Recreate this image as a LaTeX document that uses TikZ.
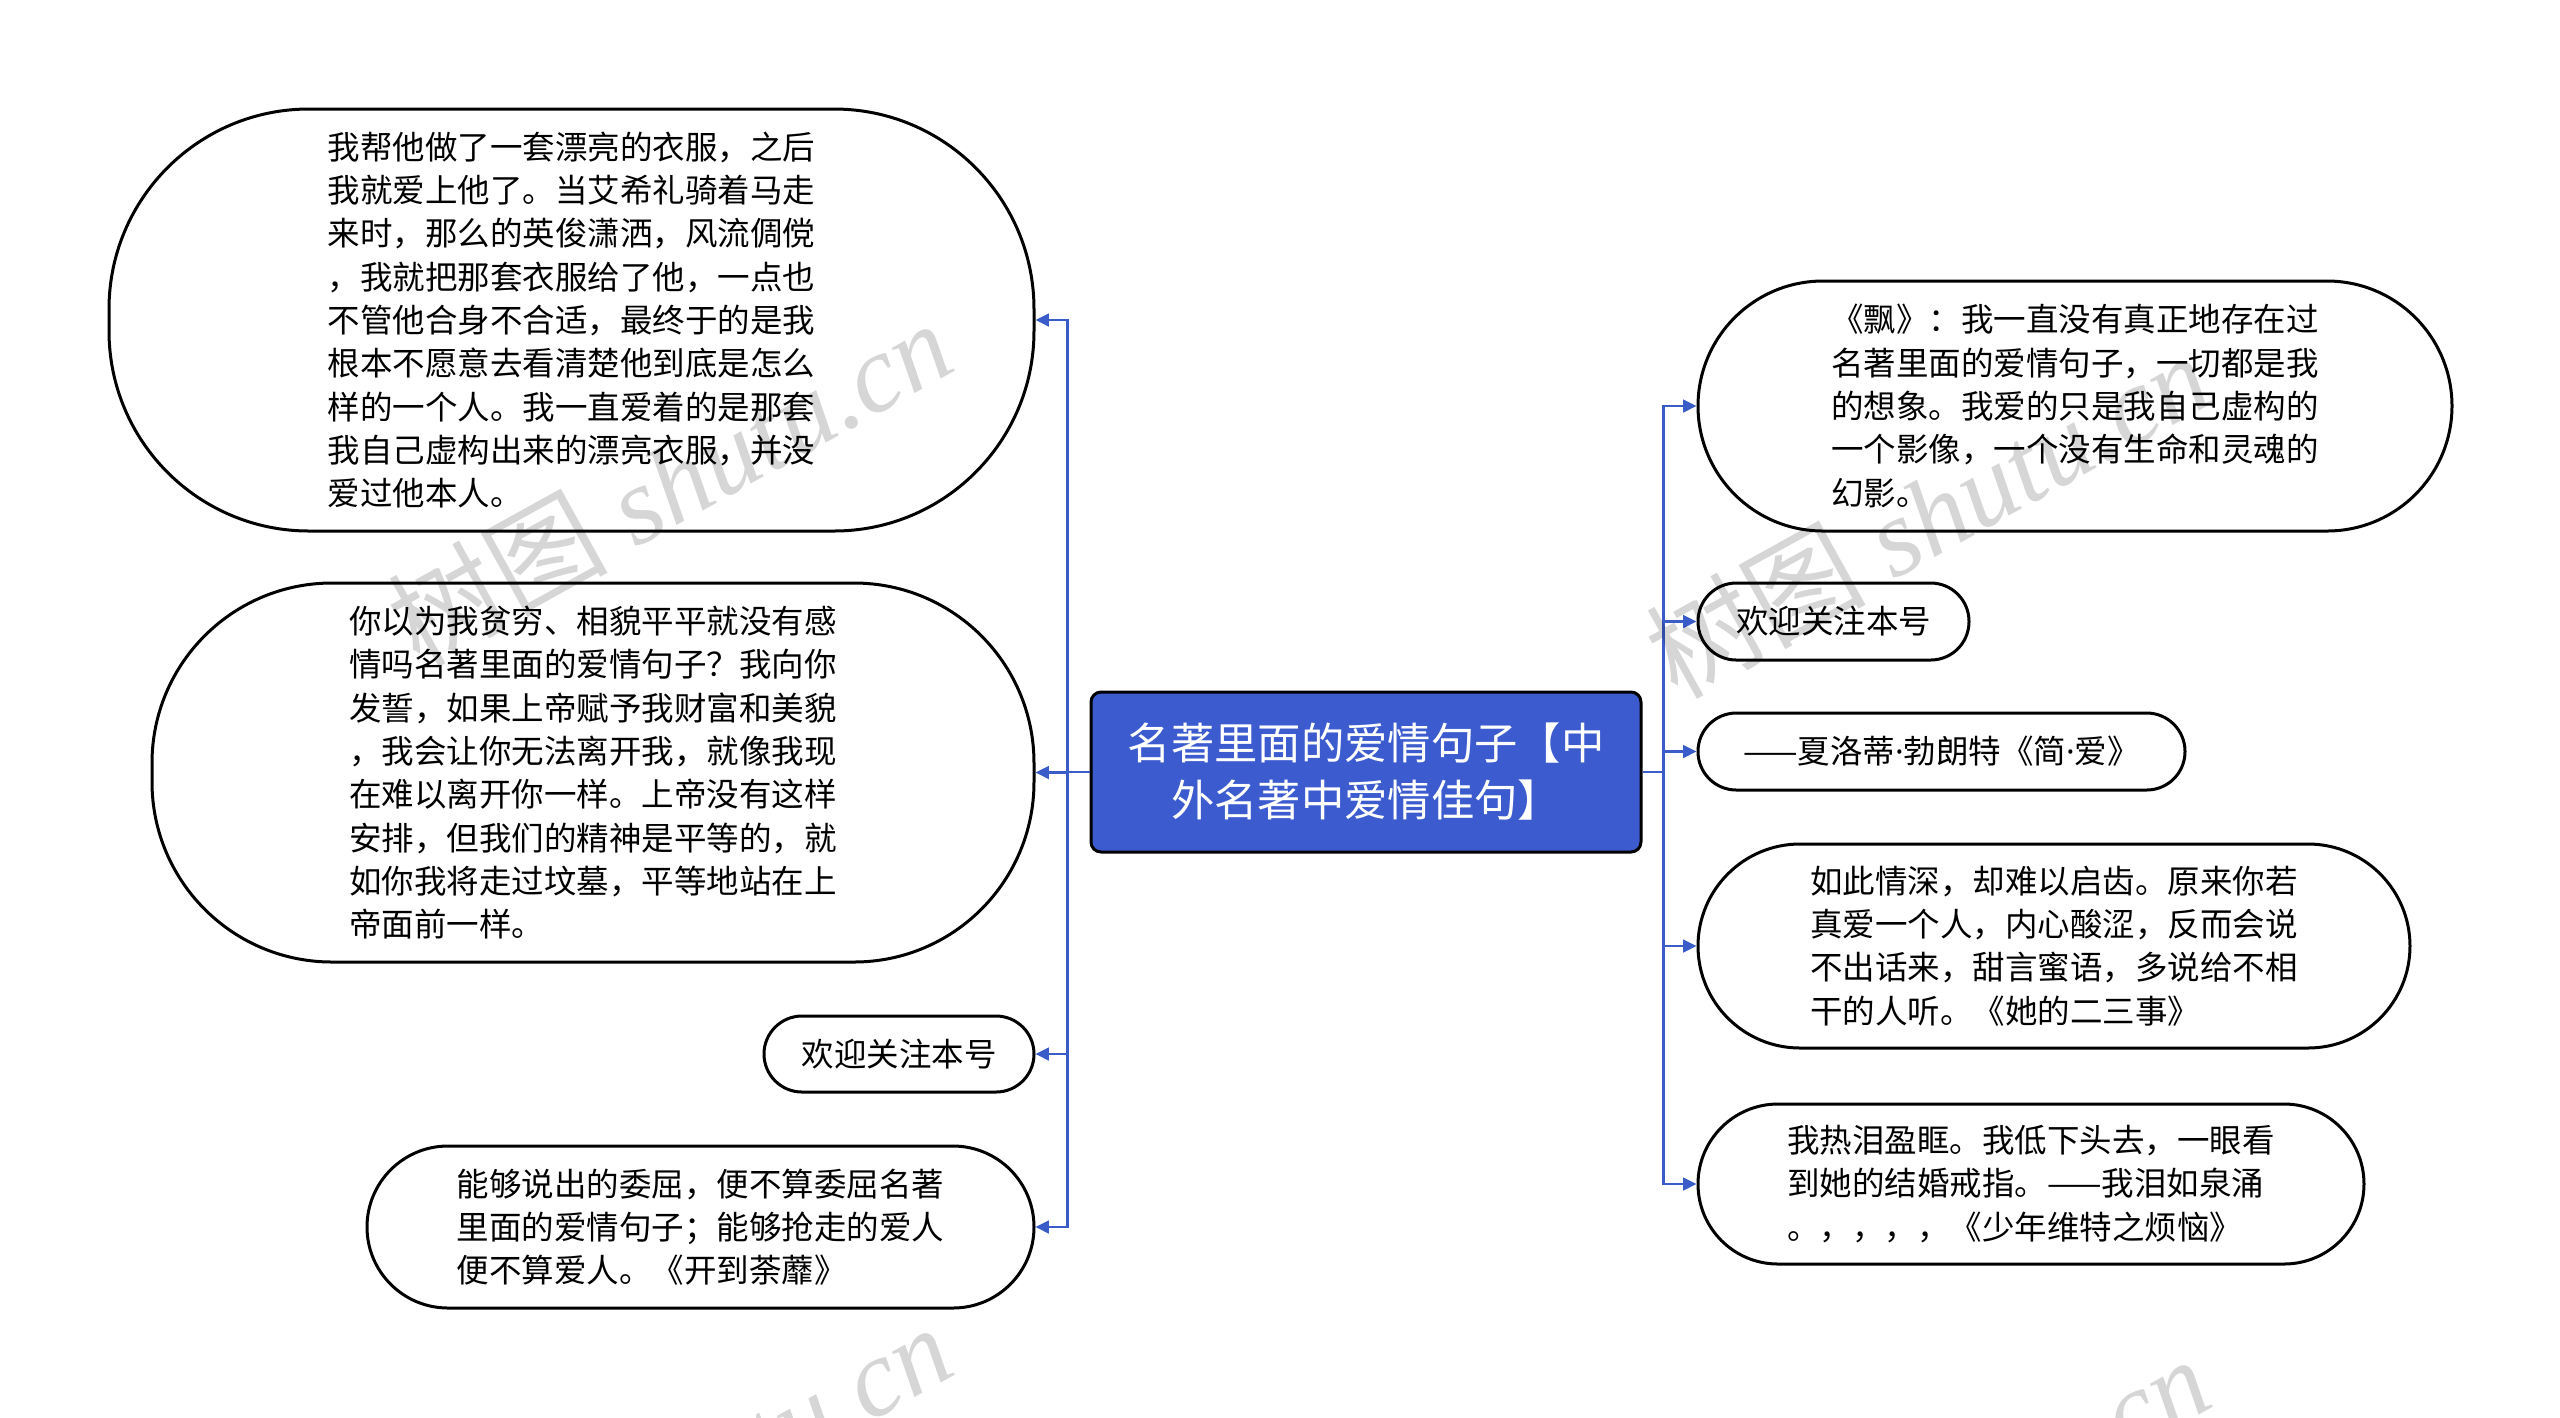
\documentclass[tikz,border=0pt]{standalone}
\usepackage{fontspec}
\setmainfont{Liberation Serif}
\newfontfamily\cjk{Noto Sans CJK SC}
\newfontfamily\latinsans{Noto Sans}
\usetikzlibrary{arrows.meta}
\definecolor{linkblue}{RGB}{58,92,200}
\definecolor{rootblue}{RGB}{59,91,207}
\newcommand{\middot}{{\latinsans ·}}
\begin{document}
\begin{tikzpicture}[x=0.3pt,y=-0.3pt,
  leaf/.style={draw=black, line width=0.9pt, fill=white, align=left, inner sep=0pt,
    font=\cjk\fontsize{9.75pt}{13pt}\selectfont},
  root/.style={draw=black, line width=0.9pt, fill=rootblue, text=white, align=center,
    inner sep=0pt, rounded corners=3pt, font=\cjk\fontsize{13pt}{17.1pt}\selectfont},
  link/.style={draw=linkblue, line width=0.7pt, -{Triangle[length=4pt,width=3.8pt]}},
  wm/.style={text=black, opacity=0.16, font=\fontsize{33pt}{36pt}\selectfont, inner sep=0pt}
]
\useasboundingbox (0,0) rectangle (2560,1417);
\fill[white] (0,0) rectangle (2560,1417);

\node[root, minimum width=165pt, minimum height=48pt] (root) at (1366,772)
  {名著里面的爱情句子【中\\外名著中爱情佳句】};

% left nodes
\node[leaf, minimum width=277.5pt, minimum height=126.6pt, rounded corners=60pt] (l1) at (571.5,320)
  {我帮他做了一套漂亮的衣服，之后\\我就爱上他了。当艾希礼骑着马走\\来时，那么的英俊潇洒，风流倜傥\\，我就把那套衣服给了他，一点也\\不管他合身不合适，最终于的是我\\根本不愿意去看清楚他到底是怎么\\样的一个人。我一直爱着的是那套\\我自己虚构出来的漂亮衣服，并没\\爱过他本人。\hspace*{10pt}};
\node[leaf, minimum width=264.6pt, minimum height=113.7pt, rounded corners=54pt] (l2) at (593,772.5)
  {你以为我贫穷、相貌平平就没有感\\情吗名著里面的爱情句子？我向你\\发誓，如果上帝赋予我财富和美貌\\，我会让你无法离开我，就像我现\\在难以离开你一样。上帝没有这样\\安排，但我们的精神是平等的，就\\如你我将走过坟墓，平等地站在上\\帝面前一样。};
\node[leaf, minimum width=81pt, minimum height=22.8pt, rounded corners=11.4pt] (l3) at (899,1054)
  {欢迎关注本号};
\node[leaf, minimum width=200.1pt, minimum height=48.6pt, rounded corners=24.3pt] (l4) at (700.5,1227)
  {能够说出的委屈，便不算委屈名著\\里面的爱情句子；能够抢走的爱人\\便不算爱人。《开到荼蘼》};

% right nodes
\node[leaf, minimum width=226.2pt, minimum height=75pt, rounded corners=37.5pt] (r1) at (2075,406)
  {《飘》：我一直没有真正地存在过\\名著里面的爱情句子，一切都是我\\的想象。我爱的只是我自己虚构的\\一个影像，一个没有生命和灵魂的\\幻影。};
\node[leaf, minimum width=81.3pt, minimum height=23.1pt, rounded corners=11.5pt] (r2) at (1833.5,621.5)
  {欢迎关注本号};
\node[leaf, minimum width=146.1pt, minimum height=23.1pt, rounded corners=11.5pt] (r3) at (1941.5,751.5)
  {——夏洛蒂\middot 勃朗特《简\middot 爱》};
\node[leaf, minimum width=213.6pt, minimum height=61.2pt, rounded corners=30.6pt] (r4) at (2054,946)
  {如此情深，却难以启齿。原来你若\\真爱一个人，内心酸涩，反而会说\\不出话来，甜言蜜语，多说给不相\\干的人听。《她的二三事》};
\node[leaf, minimum width=199.8pt, minimum height=48pt, rounded corners=24pt] (r5) at (2031,1184)
  {我热泪盈眶。我低下头去，一眼看\\到她的结婚戒指。——我泪如泉涌\\。，，，，《少年维特之烦恼》};

% connectors
\foreach \n in {l1,l2,l3,l4}
  \draw[link] (root.west) -- ++(-22,0) |- (\n.east);
\foreach \n in {r1,r2,r3,r4,r5}
  \draw[link] (root.east) -- ++(21,0) |- (\n.west);

% watermarks
\begin{scope}
\clip (0,0) rectangle (2560,1417);
\foreach \p in {(669,482),(1927,514),(669,1486),(1927,1518)}
  \node[wm, rotate=29] at \p {{\cjk 树图} \textit{shutu.cn}};
\end{scope}
\end{tikzpicture}
\end{document}
